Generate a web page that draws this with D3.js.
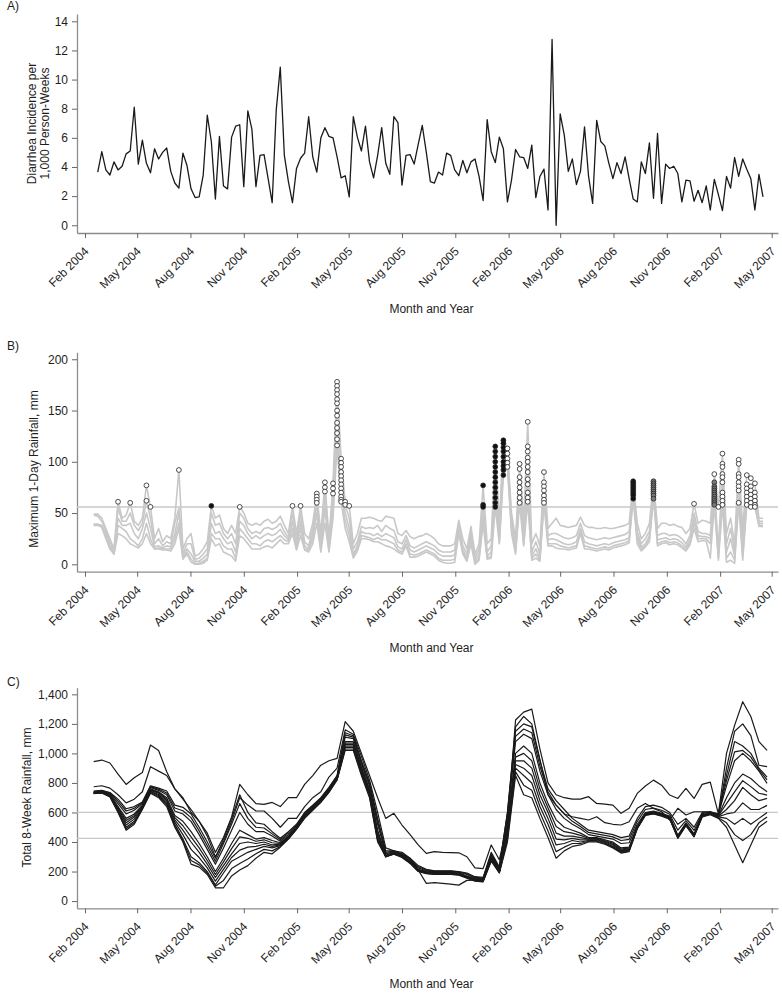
<!DOCTYPE html>
<html>
<head>
<meta charset="utf-8">
<script src="https://cdn.jsdelivr.net/npm/d3@7"></script>
<style>
  body { margin: 0; background: #fff; }
  text { font-family: "Liberation Sans", Arial, sans-serif; }
</style>
</head>
<body>
<svg id="chart" width="782" height="993"></svg>
<script>
// ---- shared x axis ----
var tickDates = ["2004-02-01","2004-05-01","2004-08-01","2004-11-01","2005-02-01","2005-05-01","2005-08-01",
  "2005-11-01","2006-02-01","2006-05-01","2006-08-01","2006-11-01","2007-02-01","2007-05-01"];
var tickLabels = ["Feb 2004","May 2004","Aug 2004","Nov 2004","Feb 2005","May 2005","Aug 2005",
  "Nov 2005","Feb 2006","May 2006","Aug 2006","Nov 2006","Feb 2007","May 2007"];

// ---- A) weekly diarrhea incidence ----
var incidenceStart = "2004-02-23";
var incidence = [
  3.65,5.05,3.8,3.45,4.35,3.8,4.05,4.9,5.1,8.1,
  4.2,5.85,4.25,3.6,5.25,4.55,5.0,5.3,3.7,2.9,
  2.55,4.95,4.1,2.5,1.9,1.95,3.45,7.55,5.75,1.8,
  6.1,2.7,2.5,6.05,6.8,6.9,2.65,7.85,6.6,2.65,
  4.8,4.85,3.2,1.55,7.9,10.85,4.8,3.0,1.55,3.9,
  4.6,4.95,7.45,4.7,3.65,6.0,6.7,6.1,6.0,4.7,
  3.25,3.4,1.95,7.45,6.05,5.1,6.8,4.35,3.25,4.8,
  6.7,4.25,3.5,7.45,7.05,2.75,4.8,4.85,4.2,5.55,
  6.85,5.0,3.0,2.9,3.65,3.45,4.95,4.8,3.8,3.4,
  4.45,3.6,4.35,4.55,3.35,1.7,7.25,5.05,4.3,6.05,
  5.25,1.6,3.1,5.2,4.7,4.65,3.9,5.5,1.9,3.35,
  3.85,1.05,12.75,0.0,7.65,6.2,3.7,4.55,2.8,3.7,
  6.75,3.35,1.5,7.2,5.75,5.45,4.25,3.2,4.3,3.55,
  4.7,3.2,1.8,1.6,4.35,3.55,5.65,1.85,6.3,1.5,
  4.2,3.9,4.05,3.55,1.6,3.1,3.05,1.65,2.4,1.55,
  2.7,1.05,3.15,2.1,1.0,3.35,2.55,4.65,3.35,4.55,
  3.85,3.2,1.05,3.5,1.95
];

// ---- B) weekly maximum 1-day rainfall, a few stations ----
var maxRainStart = "2004-02-16";
var maxRain1 = [
  49,49,45,35,25,15,61,45,48,60, 42,38,45,77,56,25,35,22,28,25,
  45,92,15,25,30,8,10,15,22,57, 45,48,35,30,38,30,56,50,40,38,
  40,38,42,44,40,42,47,38,30,57, 30,57,30,25,40,69,30,80,25,79,
  178,103,61,57,20,30,45,45,46,45, 43,42,47,46,45,30,28,33,27,25,
  27,28,30,28,25,20,18,18,18,20, 43,25,15,37,10,20,77,20,25,115,
  40,121,113,50,25,98,40,139,20,30, 18,90,35,40,45,38,37,36,37,38,
  46,38,36,36,35,35,36,35,35,36, 37,38,40,81,40,25,30,40,81,35,
  40,40,38,39,37,36,30,35,59,40, 43,42,40,88,56,108,30,45,20,102,
  35,87,84,79,45,45
];
var maxRain2 = [
  48,47,42,33,22,12,55,42,42,50, 38,33,40,62,45,20,25,18,22,20,
  40,55,10,20,20,5,6,10,15,50, 38,40,30,25,30,20,50,45,35,30,
  32,30,35,36,34,36,40,32,26,50, 24,50,22,18,35,64,22,75,18,72,
  160,90,58,45,15,22,37,35,36,35, 38,32,38,35,33,22,20,28,18,16,
  18,20,22,20,18,14,12,12,12,14, 40,18,10,32,6,15,57,12,18,95,
  30,110,105,45,18,85,30,100,12,22, 10,75,28,30,30,28,26,25,26,28,
  40,28,26,25,24,25,26,25,26,27, 28,29,32,76,32,20,25,32,76,28,
  30,30,28,29,28,25,20,28,50,32, 30,30,28,75,15,90,20,35,12,85,
  25,75,72,70,42,42
];
var maxRain3 = [
  39,39,38,30,18,11,45,38,38,40, 30,25,35,50,35,17,18,16,18,17,
  30,50,8,15,10,3,3,6,10,40, 30,32,25,20,22,12,42,38,30,25,
  28,25,28,30,28,30,34,28,24,42, 18,42,18,15,30,60,16,71,15,69,
  140,75,50,35,10,18,32,30,30,28, 30,27,30,28,26,17,15,24,14,12,
  14,16,18,16,14,10,8,8,8,9, 38,14,6,28,3,10,50,8,12,80,
  25,100,100,40,14,75,25,80,8,15, 6,68,24,25,24,22,20,19,20,22,
  35,22,20,19,18,19,20,19,21,22, 23,24,26,72,28,17,20,28,72,24,
  25,26,24,25,24,21,17,24,45,28, 27,27,25,68,10,75,12,25,8,72,
  15,65,65,64,40,40
];
var maxRain4 = [
  39,39,37,28,16,10,38,35,32,25, 22,18,25,40,25,15,16,15,15,15,
  25,40,6,12,5,1,1,3,6,30, 25,25,18,15,15,6,35,30,25,20,
  20,18,22,24,22,25,28,24,22,35, 15,35,15,14,25,50,14,55,14,55,
  125,65,42,28,8,15,28,27,26,24, 26,24,24,22,20,14,12,20,10,9,
  10,12,14,12,10,6,4,4,4,5, 35,12,4,25,1,6,45,6,8,65,
  22,95,97,35,12,65,20,70,6,10, 4,62,20,20,20,18,17,16,17,18,
  32,18,17,16,15,16,17,16,18,19, 20,21,23,68,24,15,18,25,68,20,
  22,23,21,22,21,18,15,21,40,25, 25,25,20,62,6,65,6,12,4,65,
  8,60,60,58,38,38
];
var maxRain5 = [
  38,38,36,25,15,10,30,28,25,20, 18,16,20,30,20,15,15,14,14,13,
  20,35,5,10,2,0,0,1,4,25, 18,20,12,10,8,3,28,25,20,15,
  15,15,17,18,16,20,24,20,20,30, 14,28,14,12,20,40,12,40,12,45,
  116,61,35,22,6,13,25,25,24,22, 22,20,18,17,15,12,10,18,7,7,
  8,10,12,10,8,4,2,1,1,2, 30,10,3,20,0,4,40,5,6,56,
  20,87,95,30,10,60,18,61,4,6, 3,60,18,18,16,15,15,14,15,16,
  30,15,15,14,13,14,15,14,16,17, 18,19,21,64,20,13,17,22,64,18,
  20,21,19,20,19,16,13,19,35,22, 23,23,6,58,4,58,2,4,1,60,
  4,58,56,56,37,37
];
var maxRainLimit = 56;
// station-weeks above the limit: wk = week number of the series, k = o (open) / b (black) / g (gray)
var maxRainFlags = [
  {wk: 6, v: [61], k: "o"}, {wk: 9, v: [60], k: "o"}, {wk: 13, v: [77, 62], k: "o"},
  {wk: 14, v: [56], k: "o"}, {wk: 21, v: [92], k: "o"}, {wk: 29, v: [57], k: "b"},
  {wk: 36, v: [56], k: "o"}, {wk: 49, v: [57], k: "o"}, {wk: 51, v: [57], k: "o"},
  {wk: 55, v: [69, 66, 63, 60], k: "o"}, {wk: 57, v: [80, 75, 71], k: "o"}, {wk: 59, v: [79, 74, 69], k: "o"},
  {wk: 60, v: [178, 174, 170, 166, 161, 157, 150, 145, 138, 133, 128, 122, 116], k: "o"},
  {wk: 61, v: [103, 99, 95, 90, 86, 82, 78, 74, 70, 66, 63, 61], k: "o"},
  {wk: 62, v: [61, 58], k: "o"}, {wk: 63, v: [57], k: "o"},
  {wk: 96, v: [77, 58, 56], k: "b"},
  {wk: 99, v: [115, 110, 105, 100, 95, 90, 85, 80, 75, 70, 65, 60, 56], k: "b"},
  {wk: 101, v: [121, 118, 114, 110, 105, 100, 96, 92, 87], k: "b"},
  {wk: 102, v: [113, 108, 103, 99, 95], k: "o"},
  {wk: 105, v: [98, 93, 85, 80, 75, 70, 65, 60], k: "o"},
  {wk: 107, v: [139, 115, 110, 104, 100, 95, 90, 83, 78, 70, 65, 61], k: "o"},
  {wk: 111, v: [90, 80, 76, 72, 67, 63, 60], k: "o"},
  {wk: 133, v: [81, 79, 77, 75, 73, 71, 69, 67, 64], k: "b"},
  {wk: 138, v: [81, 79, 77, 75, 73, 71, 69, 67, 64], k: "g"},
  {wk: 148, v: [59], k: "o"},
  {wk: 153, v: [88], k: "o"}, {wk: 153, v: [80, 76, 74, 72, 70, 68, 66, 64, 62, 60, 58], k: "g"},
  {wk: 154, v: [56], k: "o"},
  {wk: 155, v: [108, 98, 95, 88, 85, 80, 70, 66, 62, 58], k: "o"},
  {wk: 159, v: [102, 98, 88, 85, 80, 76, 72, 60], k: "o"},
  {wk: 161, v: [87, 78, 74, 70, 66, 62, 58], k: "o"},
  {wk: 162, v: [84, 76, 72, 68, 64, 60, 56], k: "o"},
  {wk: 163, v: [79, 70, 66, 62, 58, 56], k: "o"}
];

// ---- C) total 8-week rainfall, every 2 weeks, a few stations ----
var totalRainStart = "2004-02-16";
var totalRain1 = [944,955,935,860,790,835,870,1057,1020,876,760,700,600,540,460,330,430,570,790,720,660,655,
  668,640,700,700,790,850,920,950,966,1215,1150,1000,850,700,560,594,515,450,380,323,335,330,328,327,300,225,220,380,280,520,1226,
  1280,1300,1030,800,720,700,690,690,707,661,657,650,594,628,729,779,819,785,718,695,763,695,790,806,590,1000,1190,1350,1250,1080,1020];
var totalRain2 = [774,781,765,720,665,690,740,910,880,850,760,690,620,540,440,300,400,540,700,650,610,610,
  560,500,560,560,640,700,740,840,900,1160,1130,980,820,600,360,340,330,290,210,120,125,120,115,108,140,142,142,300,230,600,1180,
  1250,1200,960,720,650,590,571,560,549,571,531,520,515,537,628,661,628,605,549,628,583,605,605,605,580,900,1150,1200,1120,920,910];
var totalRain3 = [745,750,735,690,625,640,670,780,765,745,650,635,590,500,400,290,420,560,720,600,530,520,
  470,425,470,520,600,650,700,770,850,1140,1120,950,800,560,340,340,320,290,240,215,205,205,205,200,190,165,160,330,230,600,1150,
  1200,1180,950,760,680,620,560,520,480,470,460,450,430,440,560,640,650,635,600,520,560,500,600,605,590,850,1080,1050,1000,900,840];
var totalRain4 = [738,745,728,660,590,615,660,770,750,720,610,590,540,450,350,250,360,480,600,520,470,470,
  440,405,450,510,592,642,692,762,843,1110,1100,930,780,520,320,335,315,280,225,205,200,200,200,195,180,155,150,310,220,560,1080,
  1130,1100,880,720,620,560,520,490,450,440,430,420,390,395,520,600,610,595,575,445,530,455,585,598,585,780,950,1000,950,880,797];
var totalRain5 = [735,740,722,640,560,590,650,760,740,700,580,540,470,390,300,200,290,390,480,450,420,430,
  410,395,440,500,585,635,686,755,836,1080,1080,910,760,480,310,330,310,270,215,200,195,195,195,190,170,150,145,300,210,520,1000,
  1050,1000,800,660,550,500,480,460,430,430,415,400,360,365,505,595,605,590,570,440,525,450,580,595,580,700,800,860,830,780,740];
var totalRain6 = [733,738,718,625,530,570,640,750,730,680,550,480,400,330,250,160,240,320,390,400,390,400,
  380,385,430,495,578,628,680,748,830,1060,1060,890,740,450,300,325,305,265,210,195,190,190,190,185,165,145,140,290,200,480,950,
  950,900,720,600,460,440,440,430,420,420,405,385,345,355,500,590,600,585,565,435,520,445,578,592,575,620,680,770,720,680,695];
var totalRain7 = [730,735,712,610,500,540,630,740,715,660,520,420,300,260,200,110,190,270,300,330,350,370,
  360,375,425,490,570,621,674,742,825,1040,1040,870,720,420,300,320,300,260,205,190,185,185,185,180,160,140,135,280,195,440,900,
  850,800,640,520,380,390,410,400,410,410,395,370,335,345,495,585,595,580,560,430,515,440,575,590,570,560,520,560,520,560,600];
var totalRain8 = [728,732,705,600,480,520,620,730,700,640,500,400,250,230,180,90,90,170,210,240,290,330,
  320,365,420,485,560,615,668,736,820,1020,1020,850,700,400,300,318,295,255,200,185,180,180,180,175,155,135,130,270,190,400,850,
  720,700,560,430,290,340,370,380,400,400,385,360,325,335,490,580,590,575,555,425,510,435,570,585,560,500,380,260,380,500,540];
var totalRain9 = [742,748,732,675,610,628,665,775,758,732,630,612,565,475,375,270,390,520,660,560,500,495,
  455,415,460,515,596,646,696,766,846,1125,1110,940,790,540,330,338,318,285,232,210,203,203,203,198,185,160,155,320,225,580,1115,
  1165,1140,915,740,650,590,540,505,465,455,445,435,410,418,540,620,630,615,588,480,545,478,592,602,588,815,1010,1020,975,890,820];
var totalRain10 = [734,739,720,632,545,580,645,755,735,690,565,510,435,360,275,180,265,355,435,425,405,415,
  395,390,435,498,582,632,683,752,833,1070,1070,900,750,465,305,328,308,268,212,198,193,193,193,188,168,148,143,295,205,500,975,
  1000,950,760,630,505,470,460,445,425,425,410,392,352,360,502,592,602,588,568,438,522,448,579,594,578,660,740,815,775,730,718];
var totalRain11 = [731,736,715,618,515,555,635,745,722,670,535,450,350,295,225,135,215,295,345,365,370,385,
  370,380,428,492,574,625,677,745,828,1050,1050,880,730,435,300,322,302,262,208,192,188,188,188,182,162,142,138,285,198,460,925,
  900,850,680,560,420,415,425,415,415,415,400,378,340,350,498,588,598,582,562,432,518,442,576,591,572,590,600,665,620,620,648];
var totalRain12 = [729,733,708,605,490,530,625,735,708,650,510,410,275,245,190,100,140,220,255,285,320,350,
  340,370,422,488,565,618,671,739,822,1030,1030,860,710,410,300,319,298,258,202,188,182,182,182,178,158,138,132,275,192,420,875,
  785,750,600,475,335,365,390,390,405,405,390,365,330,340,492,582,592,578,558,428,512,438,572,588,565,530,450,410,450,530,570];
var totalRainRefs = [600, 425];

// ----------------------------------------------------------------
var parse = d3.timeParse("%Y-%m-%d");
var svg = d3.select("#chart");

// calibrate on the tick positions, then stretch to the drawn axis length
var base = d3.scaleTime().domain([parse("2004-02-01"), parse("2007-05-01")]).range([85, 771.7]);
var x = d3.scaleTime().domain([base.invert(77), base.invert(778)]).range([77, 778]);

function weeks(start, n, step) {
  var d0 = parse(start);
  return d3.range(n).map(function(i) { return d3.timeDay.offset(d0, i * step); });
}

function drawPanel(opt) {
  var y = d3.scaleLinear().domain(opt.yDomain).range([opt.bottom, opt.top]);
  var g = svg.append("g");

  var xAxis = d3.axisBottom(x)
    .tickValues(tickDates.map(parse))
    .tickFormat(function(d, i) { return tickLabels[i]; })
    .tickSize(5).tickSizeOuter(0);
  var gx = g.append("g")
    .attr("transform", "translate(0," + opt.bottom + ")")
    .call(xAxis);
  gx.selectAll(".tick text")
    .attr("x", 0).attr("y", 0).attr("dy", 0)
    .attr("text-anchor", "end")
    .attr("transform", "translate(4,19) rotate(-45)");

  var yAxis = d3.axisLeft(y).tickValues(opt.yTicks).tickSize(5).tickPadding(4).tickSizeOuter(0);
  if (opt.yFormat) yAxis.tickFormat(opt.yFormat);
  var gy = g.append("g")
    .attr("transform", "translate(77,0)")
    .call(yAxis);

  [gx, gy].forEach(function(a) {
    a.attr("font-family", "Liberation Sans, Arial, sans-serif").attr("font-size", 12);
    a.select(".domain").attr("stroke", "#8c8c8c").attr("stroke-width", 1.3);
    a.selectAll(".tick line").attr("stroke", "#666");
    a.selectAll(".tick text").attr("fill", "#1e1e1e");
  });

  // panel letter
  g.append("text").attr("x", 7).attr("y", opt.top - 3 - (opt.letterUp || 0))
    .attr("font-size", 12).attr("fill", "#1e1e1e").text(opt.letter);

  // y title (one or two lines)
  opt.yTitle.forEach(function(t, i) {
    g.append("text")
      .attr("transform", "translate(" + opt.yTitleX[i] + "," + opt.yTitleMid + ") rotate(-90)")
      .attr("text-anchor", "middle").attr("font-size", 12).attr("fill", "#1e1e1e")
      .text(t);
  });

  g.append("text").attr("x", 431.5).attr("y", opt.bottom + 80)
    .attr("text-anchor", "middle").attr("font-size", 12).attr("fill", "#1e1e1e")
    .text("Month and Year");

  return {g: g, y: y};
}

// ---- A ----
var pA = drawPanel({
  top: 14, bottom: 233, yDomain: [-0.53, 14.5], yTicks: d3.range(0, 15, 2),
  letter: "A)", letterUp: 1,
  yTitle: ["Diarrhea Incidence per", "1,000 Person-Weeks"], yTitleX: [36, 49], yTitleMid: 123.5
});
var incDates = weeks(incidenceStart, incidence.length, 7);
pA.g.append("path")
  .datum(incidence)
  .attr("fill", "none").attr("stroke", "#1a1a1a").attr("stroke-width", 1.3)
  .attr("stroke-linejoin", "round")
  .attr("d", d3.line().x(function(d, i) { return x(incDates[i]); }).y(function(d) { return pA.y(d); }));

// ---- B ----
var pB = drawPanel({
  top: 352.3, bottom: 571.7, yDomain: [-7.2, 206.8], yTicks: d3.range(0, 201, 50),
  letter: "B)", letterUp: -1,
  yTitle: ["Maximum 1-Day Rainfall, mm"], yTitleX: [37.5], yTitleMid: 469
});
var mrDates = weeks(maxRainStart, maxRain1.length, 7);
pB.g.append("line")
  .attr("x1", 77).attr("x2", 778)
  .attr("y1", pB.y(maxRainLimit)).attr("y2", pB.y(maxRainLimit))
  .attr("stroke", "#c8c8c8").attr("stroke-width", 1.5);
var lineB = d3.line().x(function(d, i) { return x(mrDates[i]); }).y(function(d) { return pB.y(d); });
pB.g.selectAll(".mr")
  .data([maxRain5, maxRain4, maxRain3, maxRain2, maxRain1])
  .enter().append("path")
  .attr("class", "mr")
  .attr("fill", "none").attr("stroke", "#c8c8c8").attr("stroke-width", 1.6)
  .attr("stroke-linejoin", "round")
  .attr("d", lineB);

var flagPts = [];
maxRainFlags.forEach(function(f) {
  f.v.forEach(function(v) { flagPts.push({d: mrDates[f.wk], v: v, k: f.k}); });
});
var flagFill = {o: "#fff", b: "#111", g: "#7a7a7a"};
pB.g.selectAll(".flag")
  .data(flagPts)
  .enter().append("circle")
  .attr("class", "flag")
  .attr("cx", function(d) { return x(d.d); })
  .attr("cy", function(d) { return pB.y(d.v); })
  .attr("r", 2.4)
  .attr("fill", function(d) { return flagFill[d.k]; })
  .attr("stroke", "#222").attr("stroke-width", 0.8);

// ---- C ----
var pC = drawPanel({
  top: 687.7, bottom: 908.3, yDomain: [-49, 1445], yTicks: d3.range(0, 1401, 200),
  yFormat: d3.format(","),
  letter: "C)", letterUp: -1,
  yTitle: ["Total 8-Week Rainfall, mm"], yTitleX: [30.5], yTitleMid: 797.5
});
var trDates = weeks(totalRainStart, totalRain1.length, 14);
pC.g.selectAll(".ref")
  .data(totalRainRefs)
  .enter().append("line")
  .attr("class", "ref")
  .attr("x1", 77).attr("x2", 778)
  .attr("y1", function(d) { return pC.y(d); }).attr("y2", function(d) { return pC.y(d); })
  .attr("stroke", "#c8c8c8").attr("stroke-width", 1.3);
var lineC = d3.line().x(function(d, i) { return x(trDates[i]); }).y(function(d) { return pC.y(d); });
pC.g.selectAll(".tr")
  .data([totalRain1, totalRain2, totalRain3, totalRain4, totalRain5, totalRain6,
         totalRain7, totalRain8, totalRain9, totalRain10, totalRain11, totalRain12])
  .enter().append("path")
  .attr("class", "tr")
  .attr("fill", "none").attr("stroke", "#1a1a1a").attr("stroke-width", 1.2)
  .attr("stroke-linejoin", "round")
  .attr("d", lineC);
</script>
</body>
</html>
